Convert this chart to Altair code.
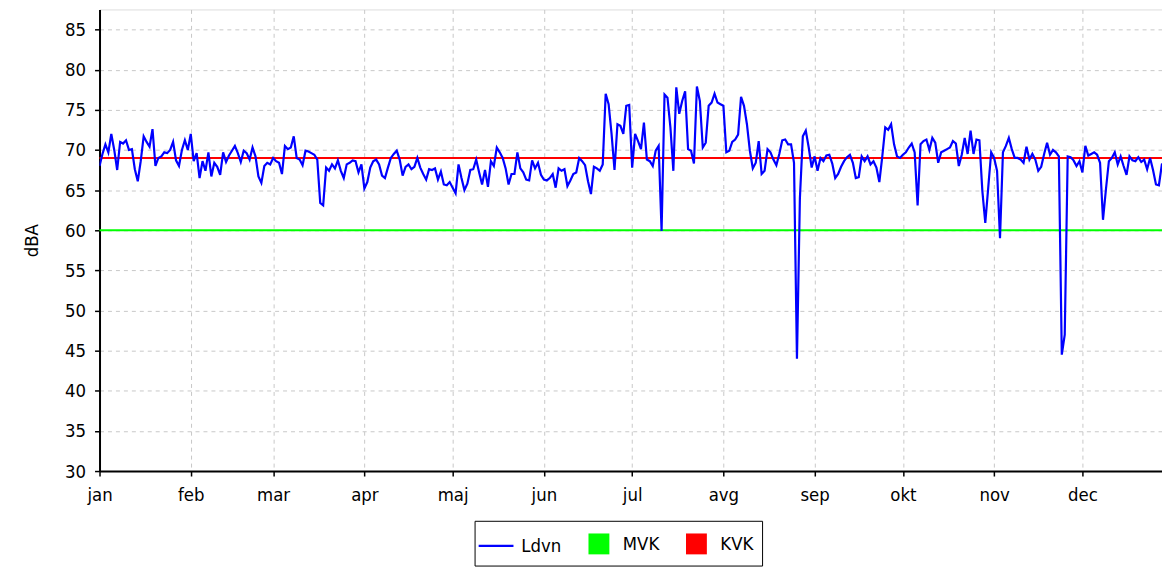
import altair as alt
import pandas as pd

# ---- data -------------------------------------------------------------
month_labels = ["jan", "feb", "mar", "apr", "maj", "jun", "jul", "avg", "sep", "okt", "nov", "dec"]
month_start_day = [0, 31, 59, 90, 120, 151, 181, 212, 243, 273, 304, 334]

jan = [68.0, 69.5, 70.7, 69.7, 72.0, 70.0, 67.5, 71.0, 70.8, 71.2, 70.0, 70.1, 67.6, 66.1, 68.6, 71.7,
       71.0, 70.4, 72.6, 68.0, 69.0, 69.2, 69.7, 69.6, 70.0, 71.0, 68.7, 68.0, 70.0, 71.2, 70.0]
feb = [72.0, 68.6, 69.6, 66.5, 68.6, 67.4, 69.7, 66.7, 68.4, 67.9, 66.9, 69.7, 68.5, 69.3, 69.9, 70.5,
       69.6, 68.5, 69.9, 69.6, 68.8, 70.3, 69.2, 66.7, 65.9, 68.0, 68.4, 68.2]
mar = [69.0, 68.6, 68.4, 67.0, 70.5, 70.1, 70.3, 71.7, 69.0, 68.8, 68.1, 69.9, 69.8, 69.6, 69.4, 68.8,
       63.4, 63.1, 67.8, 67.4, 68.2, 67.7, 68.7, 67.4, 66.5, 68.2, 68.4, 68.7, 68.6, 67.2, 68.2]
apr = [65.2, 66.0, 67.8, 68.6, 68.8, 68.2, 66.8, 66.5, 67.8, 69.0, 69.5, 69.9, 68.8, 66.8, 67.9, 68.2,
       67.6, 67.9, 69.0, 67.8, 67.0, 66.3, 67.6, 67.5, 67.7, 66.3, 67.3, 65.7, 65.6, 66.0]
maj = [65.3, 64.6, 68.2, 66.5, 65.0, 65.8, 67.5, 67.6, 68.8, 67.2, 65.7, 67.5, 65.4, 68.6, 68.0, 70.3,
       69.7, 69.0, 67.7, 65.7, 67.0, 67.0, 69.7, 67.7, 67.2, 66.3, 66.2, 68.7, 67.7, 68.4, 66.9]
jun = [66.3, 66.2, 66.5, 67.0, 65.3, 67.7, 67.4, 67.6, 65.5, 66.2, 67.0, 67.2, 69.0, 68.6, 68.1, 66.1,
       64.5, 67.9, 67.7, 67.4, 68.2, 77.0, 75.7, 72.0, 67.5, 73.2, 73.0, 72.0, 75.5, 75.6]
jul = [67.8, 72.0, 71.1, 70.1, 73.4, 68.8, 68.6, 68.0, 69.9, 70.5, 59.9, 76.9, 76.5, 72.8, 67.4, 77.8,
       74.5, 76.1, 77.3, 70.1, 69.9, 68.3, 77.9, 76.1, 70.3, 70.9, 75.5, 75.9, 77.0, 75.9, 75.7]
avg = [75.5, 69.7, 69.9, 71.0, 71.3, 71.9, 76.6, 75.5, 73.2, 69.9, 67.7, 68.4, 71.1, 67.0, 67.4, 70.1,
       69.7, 68.8, 68.1, 69.5, 71.2, 71.3, 70.7, 70.7, 68.4, 44.0, 64.0, 71.7, 72.4, 70.3, 67.8]
sep = [69.2, 67.4, 69.0, 68.6, 69.3, 69.4, 68.3, 66.5, 67.0, 67.9, 68.6, 69.1, 69.4, 68.4, 66.5, 66.6,
       69.2, 68.6, 69.2, 68.2, 68.6, 67.8, 66.0, 69.2, 72.8, 72.5, 73.2, 70.7, 69.2, 69.0]
okt = [69.4, 69.7, 70.3, 70.8, 69.7, 63.1, 70.7, 71.1, 71.3, 70.0, 71.5, 70.9, 68.4, 69.7, 69.9, 70.1,
       70.3, 71.1, 70.8, 68.0, 69.4, 71.5, 69.5, 72.4, 69.5, 71.3, 71.2, 64.9, 60.9, 65.3, 69.7]
nov = [69.0, 67.4, 59.0, 69.7, 70.5, 71.5, 70.1, 69.0, 69.0, 68.8, 68.4, 70.4, 68.8, 69.5, 68.8, 67.4,
       67.9, 69.5, 70.9, 69.4, 70.0, 69.7, 69.2, 44.5, 47.0, 69.2, 69.1, 68.7, 68.0, 68.6]
dec = [67.2, 70.5, 69.3, 69.5, 69.7, 69.4, 68.4, 61.3, 65.1, 68.6, 69.0, 69.7, 68.2, 69.2, 68.0, 66.9,
       69.2, 68.7, 68.6, 69.1, 68.5, 68.8, 67.6, 69.0, 67.5, 65.7, 65.6, 68.2, 68.4, 67.7, 67.4]

ldvn = jan + feb + mar + apr + maj + jun + jul + avg + sep + okt + nov + dec
days = list(range(len(ldvn)))

series_names = ["Ldvn", "MVK", "KVK"]
series_colors = ["#0000ff", "#00ff00", "#ff0000"]
limit_names = ["MVK", "KVK"]
limit_values = [60, 69]
y_ticks = [30, 35, 40, 45, 50, 55, 60, 65, 70, 75, 80, 85]

df = pd.DataFrame({"day": days, "dBA": ldvn})
lim_df = pd.DataFrame({"series": limit_names, "value": limit_values})
leg_df = pd.DataFrame({"series": series_names})

# ---- chart ------------------------------------------------------------
FONT = "DejaVu Sans Condensed"
FS = 18.5
x_scale = alt.Scale(domain=[0, 361.05], nice=False, zero=False)
y_scale = alt.Scale(domain=[30, 87.5], nice=False, zero=False)
color_scale = alt.Scale(domain=series_names, range=series_colors)

names_js = "[" + ",".join("'%s'" % m for m in month_labels) + "]"
days_js = "[" + ",".join(str(d) for d in month_start_day) + "]"

x_axis = alt.Axis(values=month_start_day, labelExpr=f"{names_js}[indexof({days_js}, datum.value)]",
                  title=None, grid=True, gridDash=[4, 4], gridColor="#c8c8c8",
                  domainColor="#000000", domainWidth=2, tickColor="#000000", tickSize=5, tickWidth=1.5,
                  labelFont=FONT, labelFontSize=FS, labelColor="#000000", labelPadding=10,
                  labelFlush=False, labelOverlap=False)
y_axis = alt.Axis(values=y_ticks, title="dBA", grid=True, gridDash=[4, 4], gridColor="#c8c8c8",
                  domainColor="#000000", domainWidth=2, tickColor="#000000", tickSize=5, tickWidth=1.5,
                  labelFont=FONT, labelFontSize=FS, labelColor="#000000", labelPadding=9,
                  titleFont=FONT, titleFontSize=FS, titleFontWeight="normal", titleColor="#000000",
                  titleX=-68, titleY=232, titleAngle=-90, titleAlign="center", titleBaseline="middle")

leg = alt.Legend(title=None, orient="none", direction="horizontal", legendX=377, legendY=514,
                 strokeColor="#000000", padding=8, columnPadding=22, symbolSize=784,
                 labelFont=FONT, labelFontSize=FS, labelColor="#000000", labelOffset=9,
                 symbolOpacity=1)

line_path = "M-1.35,-0.075H1.15V0.075H-1.35Z"
sq_path = "M-0.75,-0.75H0.75V0.75H-0.75Z"

line = alt.Chart(df).mark_line(color=series_colors[0], strokeWidth=2.2, clip=True).encode(
    x=alt.X("day:Q", scale=x_scale, axis=x_axis),
    y=alt.Y("dBA:Q", scale=y_scale, axis=y_axis),
)

mvk = alt.Chart(lim_df).transform_filter(alt.datum.series == "MVK").mark_rule(
    strokeWidth=2, color=series_colors[1]).encode(y=alt.Y("value:Q", scale=y_scale))
kvk = alt.Chart(lim_df).transform_filter(alt.datum.series == "KVK").mark_rule(
    strokeWidth=2, color=series_colors[2]).encode(y=alt.Y("value:Q", scale=y_scale))

legend_layer = alt.Chart(leg_df).mark_point(filled=True, opacity=1, size=0).encode(
    color=alt.Color("series:N", scale=color_scale, legend=leg),
    shape=alt.Shape("series:N", scale=alt.Scale(domain=series_names, range=[line_path, sq_path, sq_path]),
                    legend=leg),
)

chart = alt.layer(mvk, kvk, line, legend_layer).properties(
    width=1068, height=464,
    autosize=alt.AutoSizeParams(type="none"),
    padding={"left": 92, "top": 0, "right": 0, "bottom": 95},
).configure_view(stroke=None).configure_legend(strokeWidth=2).configure(background="#ffffff")

chart.save("out.html", embed_options={"renderer": "svg", "actions": False})
